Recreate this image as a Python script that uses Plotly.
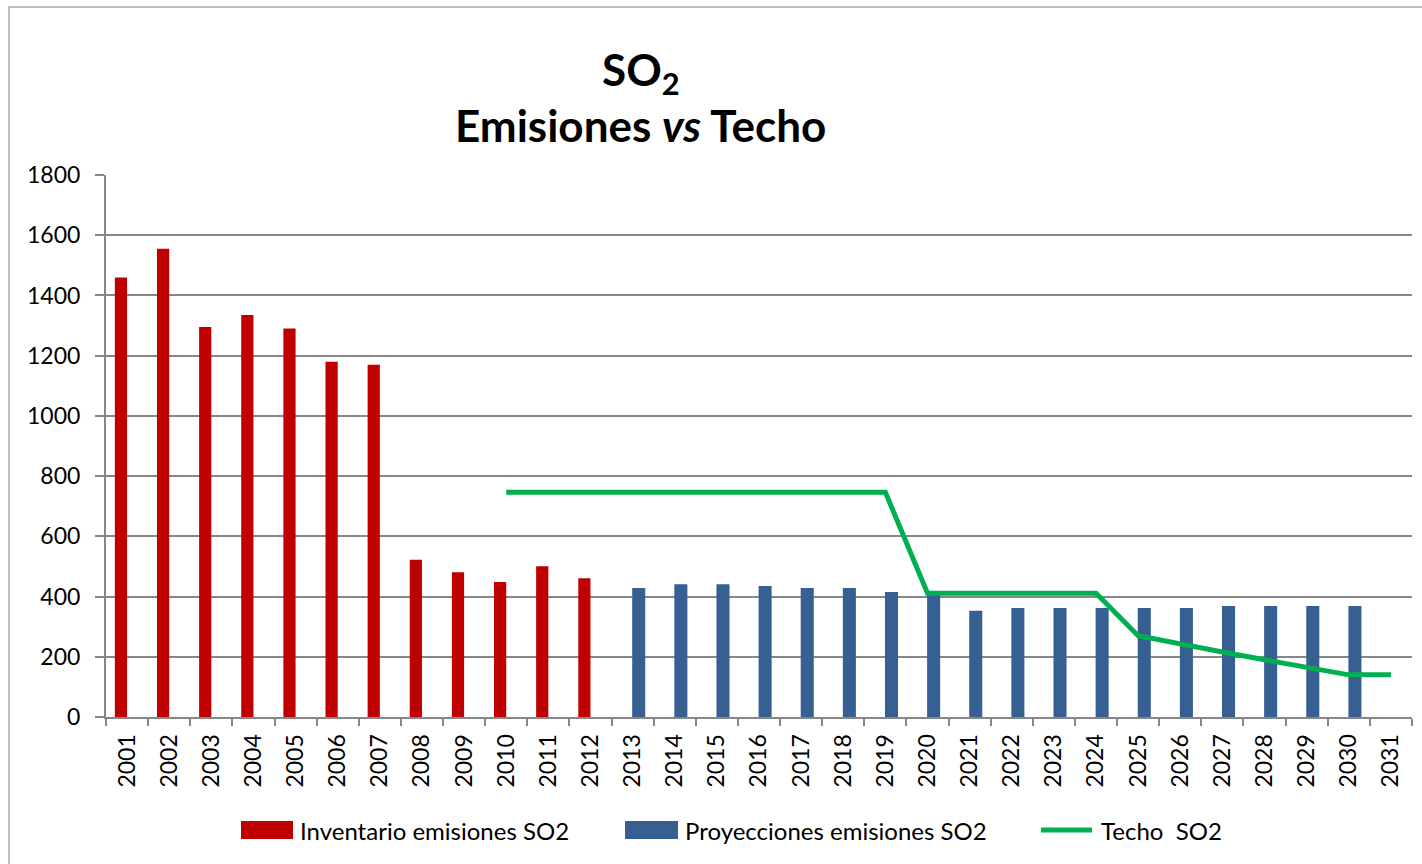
import plotly.graph_objects as go

# ---------------- data ----------------
years = [str(y) for y in range(2001, 2032)]

inv_years = [str(y) for y in range(2001, 2013)]
inventario = [1460, 1555, 1295, 1335, 1290, 1180, 1170, 522, 481, 448, 501, 461]

proy_years = [str(y) for y in range(2013, 2031)]
proyecciones = [428, 441, 441, 435, 428, 428, 415, 412, 353, 362, 362, 362,
                362, 362, 369, 369, 369, 369]

techo_years = [str(y) for y in range(2010, 2032)]
techo = [746, 746, 746, 746, 746, 746, 746, 746, 746, 746,
         411, 411, 411, 411, 411,
         270, 245, 216, 190, 164, 140, 140]

yticks = [0, 200, 400, 600, 800, 1000, 1200, 1400, 1600, 1800]

names = ["Inventario emisiones SO2", "Proyecciones emisiones SO2", "Techo  SO2"]
RED, BLUE, GREEN = "#C00000", "#376092", "#00B050"
GRID = "#878787"
FONT = "Lato"

# ---------------- layout geometry ----------------
W, H = 1422, 864
L, R, T, B = 106, 10, 175, 147
PW, PH = W - L - R, H - T - B


def px(x):
    return (x - L) / PW


def py(y):
    return (H - B - y) / PH


fig = go.Figure()
fig.add_trace(go.Bar(x=inv_years, y=inventario, name=names[0],
                     width=0.29, offset=-0.29,
                     marker=dict(color=RED, line=dict(width=0))))
fig.add_trace(go.Bar(x=proy_years, y=proyecciones, name=names[1],
                     width=0.31, offset=-0.01,
                     marker=dict(color=BLUE, line=dict(width=0))))
fig.add_trace(go.Scatter(x=techo_years, y=techo, name=names[2], mode="lines",
                         line=dict(color=GREEN, width=5)))

shapes = [
    # outer chart frame
    dict(type="rect", xref="paper", yref="paper", x0=px(9), x1=px(1440),
         y0=py(880), y1=py(7), line=dict(color="#a6a6a6", width=1.5),
         fillcolor="rgba(0,0,0,0)", layer="below"),
    # legend keys
    dict(type="rect", xref="paper", yref="paper", x0=px(241), x1=px(293),
         y0=py(839), y1=py(821), fillcolor=RED, line=dict(width=0)),
    dict(type="rect", xref="paper", yref="paper", x0=px(625), x1=px(678),
         y0=py(839), y1=py(821), fillcolor=BLUE, line=dict(width=0)),
    dict(type="line", xref="paper", yref="paper", x0=px(1041), x1=px(1092),
         y0=py(830), y1=py(830), line=dict(color=GREEN, width=5)),
]

annotations = [
    dict(text="<b>SO<sub>2</sub></b>", xref="paper", yref="paper",
         x=px(641), y=py(72), xanchor="center", yanchor="middle",
         showarrow=False, font=dict(family=FONT, size=44, color="black")),
    dict(text="<b>Emisiones <i>vs</i> Techo</b>", xref="paper", yref="paper",
         x=px(640), y=py(125), xanchor="center", yanchor="middle",
         showarrow=False, font=dict(family=FONT, size=44, color="black")),
]
for xpos, label in zip([298, 683, 1099], names):
    annotations.append(dict(text=label, xref="paper", yref="paper",
                            x=px(xpos), y=py(830), xanchor="left",
                            yanchor="middle", showarrow=False,
                            font=dict(family=FONT, size=24, color="black")))

fig.update_layout(
    width=W, height=H,
    margin=dict(l=L, r=R, t=T, b=B, pad=0),
    paper_bgcolor="white", plot_bgcolor="white",
    barmode="overlay",
    showlegend=False,
    font=dict(family=FONT, color="black"),
    shapes=shapes, annotations=annotations,
    xaxis=dict(type="category", categoryorder="array", categoryarray=years,
               tickvals=years, ticktext=years,
               tickangle=-90, tickson="boundaries", ticks="outside",
               ticklen=7, tickwidth=1.5, tickcolor=GRID,
               showline=True, linecolor=GRID, linewidth=2,
               showgrid=False, zeroline=False, range=[-0.5, 30.5],
               tickfont=dict(family=FONT, size=23, color="black"),
               ticklabelstandoff=6),
    yaxis=dict(range=[0, 1800], tickvals=yticks, ticks="outside",
               ticklen=9, tickwidth=1.5, tickcolor=GRID,
               showline=True, linecolor=GRID, linewidth=2,
               showgrid=True, gridcolor=GRID, gridwidth=1.5,
               zeroline=False,
               tickfont=dict(family=FONT, size=23, color="black"),
               ticklabelstandoff=10),
)

fig.write_html("out.html",
               config={"displayModeBar": False},
               post_script="document.body.style.margin='0px';"
                           "document.body.style.overflow='hidden';")
